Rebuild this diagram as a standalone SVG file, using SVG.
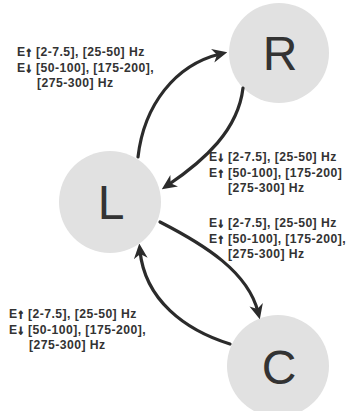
<svg xmlns="http://www.w3.org/2000/svg" width="352" height="411" viewBox="0 0 352 411">
<style>
.node{fill:#e1e1e1}
.big{font-family:"Liberation Sans",Arial,sans-serif;font-size:48px;fill:#333;text-anchor:middle}
.lbl{font-family:"Liberation Sans",Arial,sans-serif;font-size:12.2px;font-weight:bold;fill:#333;letter-spacing:0.45px}
.ar{stroke:#333;stroke-width:1.3px}
.edge{fill:none;stroke:#2b2b2b;stroke-width:3.2;stroke-linecap:round}
</style>
<defs>
<marker id="ah" viewBox="0 0 12 12" refX="6" refY="6" markerWidth="15" markerHeight="15" markerUnits="userSpaceOnUse" orient="auto">
<path d="M0,0.5 L12,6 L0,11.5 L3.5,6 Z" fill="#2b2b2b"/>
</marker>
</defs>
<g id="node-R"><circle class="node" cx="279" cy="53" r="50"/><text class="big" x="280" y="70">R</text></g>
<g id="node-L"><circle class="node" cx="110" cy="202" r="51"/><text class="big" x="111" y="219">L</text></g>
<g id="node-C"><circle class="node" cx="278" cy="366" r="51"/><text class="big" x="279" y="384">C</text></g>
<g id="connectors">
<path class="edge" d="M138,157 C144,105 175,65 220,54" marker-end="url(#ah)"/>
<path class="edge" d="M243,88 C238,130 205,160 168,185" marker-end="url(#ah)"/>
<path class="edge" d="M160,222 C205,245 248,272 258,312" marker-end="url(#ah)"/>
<path class="edge" d="M230,344 C185,330 145,300 140,251" marker-end="url(#ah)"/>
</g>
<g id="labels">
<text class="lbl" x="17" y="56">E<tspan class="ar">↑</tspan> [2-7.5], [25-50] Hz</text>
<text class="lbl" x="17" y="71.5">E<tspan class="ar">↓</tspan> [50-100], [175-200],</text>
<text class="lbl" x="37" y="87">[275-300] Hz</text>
<text class="lbl" x="209" y="161">E<tspan class="ar">↓</tspan> [2-7.5], [25-50] Hz</text>
<text class="lbl" x="209" y="176.5">E<tspan class="ar">↑</tspan> [50-100], [175-200]</text>
<text class="lbl" x="228" y="192">[275-300] Hz</text>
<text class="lbl" x="209" y="227">E<tspan class="ar">↓</tspan> [2-7.5], [25-50] Hz</text>
<text class="lbl" x="209" y="242.5">E<tspan class="ar">↑</tspan> [50-100], [175-200],</text>
<text class="lbl" x="228" y="258">[275-300] Hz</text>
<text class="lbl" x="9" y="318">E<tspan class="ar">↑</tspan> [2-7.5], [25-50] Hz</text>
<text class="lbl" x="9" y="333.5">E<tspan class="ar">↓</tspan> [50-100], [175-200],</text>
<text class="lbl" x="29" y="349">[275-300] Hz</text>
</g>
</svg>
